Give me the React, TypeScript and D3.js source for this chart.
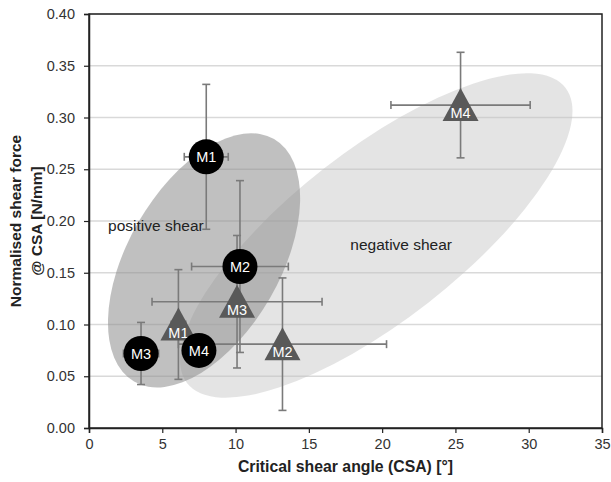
import React, { useEffect, useRef } from 'react';
import * as d3 from 'd3';

// Circle series (black markers)
const circleLabels = ['M1', 'M2', 'M3', 'M4'];
const circleX = [8.0, 10.3, 3.55, 7.5];
const circleY = [0.262, 0.156, 0.072, 0.075];
const circleXErr = [1.5, 3.3, 1.2, 0.8];
const circleYErr = [0.07, 0.083, 0.03, 0.01];

// Triangle series (grey markers)
const triLabels = ['M1', 'M2', 'M3', 'M4'];
const triX = [6.1, 13.2, 10.1, 25.35];
const triY = [0.1, 0.081, 0.122, 0.312];
const triXErr = [0.5, 7.1, 5.8, 4.75];
const triYErr = [0.053, 0.064, 0.064, 0.051];

const xTicks = [0, 5, 10, 15, 20, 25, 30, 35];
const yTicks = [0, 0.05, 0.1, 0.15, 0.2, 0.25, 0.3, 0.35, 0.4];

// Shaded regions: centre in data units
const regionNames = ['negative shear', 'positive shear'];
const regionCx = [19.6, 7.85];
const regionCy = [0.186, 0.162];
const labelX = [21.3, 1.3];
const labelY = [0.172, 0.19];

const W = 611;
const H = 482;

const App: React.FC = () => {
  const svgRef = useRef<SVGSVGElement>(null);

  useEffect(() => {
    if (!svgRef.current) return;
    const svg = d3.select(svgRef.current);
    svg.selectAll('*').remove();

    const margin = { top: 14, right: 9, bottom: 54, left: 89 };
    const innerW = W - margin.left - margin.right;
    const innerH = H - margin.top - margin.bottom;
    const font = 'Liberation Sans, Arial, sans-serif';

    const x = d3.scaleLinear().domain([0, 35]).range([0, innerW]);
    const y = d3.scaleLinear().domain([0, 0.4]).range([innerH, 0]);

    const g = svg.append('g').attr('transform', `translate(${margin.left},${margin.top})`);

    // gridlines
    g.selectAll('.grid')
      .data(yTicks.slice(1))
      .join('line')
      .attr('x1', 0).attr('x2', innerW)
      .attr('y1', d => y(d)).attr('y2', d => y(d))
      .attr('stroke', '#d9d9d9')
      .attr('stroke-width', 1.3);

    // shaded regions
    const regionStyle = [
      { rx: 240, ry: 85, rot: -38, fill: '#c4c4c4', op: 0.45 },
      { rx: 76, ry: 140, rot: 30, fill: '#8f8f8f', op: 0.56 }
    ];
    regionNames.forEach((name, i) => {
      const s = regionStyle[i];
      const cx = x(regionCx[i]);
      const cy = y(regionCy[i]);
      g.append('ellipse')
        .attr('cx', 0).attr('cy', 0)
        .attr('rx', s.rx).attr('ry', s.ry)
        .attr('transform', `translate(${cx},${cy}) rotate(${s.rot})`)
        .attr('fill', s.fill)
        .attr('fill-opacity', s.op);
    });

    // region labels
    g.append('text')
      .attr('x', x(labelX[0])).attr('y', y(labelY[0]))
      .attr('text-anchor', 'middle')
      .attr('font-family', font).attr('font-size', 15.5)
      .attr('fill', '#222')
      .text(regionNames[0]);
    g.append('text')
      .attr('x', x(labelX[1])).attr('y', y(labelY[1]))
      .attr('text-anchor', 'start')
      .attr('font-family', font).attr('font-size', 15.5)
      .attr('fill', '#222')
      .text(regionNames[1]);

    // error bars
    const errColor = '#7a7a7a';
    const cap = 4;
    const drawErr = (xs: number[], ys: number[], xe: number[], ye: number[]) => {
      xs.forEach((xv, i) => {
        const px = x(xv), py = y(ys[i]);
        const x0 = x(xv - xe[i]), x1 = x(xv + xe[i]);
        const y0 = y(ys[i] - ye[i]), y1 = y(ys[i] + ye[i]);
        const eg = g.append('g').attr('stroke', errColor).attr('stroke-width', 1.6);
        eg.append('line').attr('x1', x0).attr('x2', x1).attr('y1', py).attr('y2', py);
        eg.append('line').attr('x1', x0).attr('x2', x0).attr('y1', py - cap).attr('y2', py + cap);
        eg.append('line').attr('x1', x1).attr('x2', x1).attr('y1', py - cap).attr('y2', py + cap);
        eg.append('line').attr('x1', px).attr('x2', px).attr('y1', y0).attr('y2', y1);
        eg.append('line').attr('x1', px - cap).attr('x2', px + cap).attr('y1', y0).attr('y2', y0);
        eg.append('line').attr('x1', px - cap).attr('x2', px + cap).attr('y1', y1).attr('y2', y1);
      });
    };
    drawErr(circleX, circleY, circleXErr, circleYErr);
    drawErr(triX, triY, triXErr, triYErr);

    // triangles
    const tri = 'M0,-17L18,16L-18,16Z';
    triX.forEach((xv, i) => {
      const tg = g.append('g').attr('transform', `translate(${x(xv)},${y(triY[i])})`);
      tg.append('path').attr('d', tri).attr('fill', '#595959');
      tg.append('text')
        .attr('y', 13)
        .attr('text-anchor', 'middle')
        .attr('font-family', font).attr('font-size', 14.5)
        .attr('fill', '#fff')
        .text(triLabels[i]);
    });

    // circles
    circleX.forEach((xv, i) => {
      const cg = g.append('g').attr('transform', `translate(${x(xv)},${y(circleY[i])})`);
      cg.append('circle').attr('r', 17.5).attr('fill', '#000');
      cg.append('text')
        .attr('y', 5.5)
        .attr('text-anchor', 'middle')
        .attr('font-family', font).attr('font-size', 14.5)
        .attr('fill', '#fff')
        .text(circleLabels[i]);
    });

    // frame
    g.append('rect')
      .attr('width', innerW).attr('height', innerH)
      .attr('fill', 'none')
      .attr('stroke', '#222')
      .attr('stroke-width', 1.5);

    // axes
    const xAxis = g.append('g')
      .attr('transform', `translate(0,${innerH})`)
      .call(d3.axisBottom(x).tickValues(xTicks).tickSize(5).tickPadding(6).tickFormat(d3.format('d')));
    const yAxis = g.append('g')
      .call(d3.axisLeft(y).tickValues(yTicks).tickSize(5).tickPadding(9).tickFormat(d3.format('.2f')));
    [xAxis, yAxis].forEach(a => {
      a.select('.domain').attr('stroke', '#222').attr('stroke-width', 1.5);
      a.selectAll('.tick line').attr('stroke', '#222').attr('stroke-width', 1.2);
      a.selectAll('.tick text')
        .attr('fill', '#333')
        .attr('font-size', 14.5)
        .attr('font-family', font);
    });

    // axis titles
    svg.append('text')
      .attr('x', margin.left + innerW / 2).attr('y', 472)
      .attr('text-anchor', 'middle')
      .attr('font-family', font).attr('font-size', 15.8).attr('font-weight', 'bold')
      .attr('fill', '#222')
      .text('Critical shear angle (CSA) [°]');
    const yt = svg.append('text')
      .attr('transform', `translate(0,${margin.top + innerH / 2}) rotate(-90)`)
      .attr('text-anchor', 'middle')
      .attr('font-family', font).attr('font-size', 15.5).attr('font-weight', 'bold')
      .attr('fill', '#222');
    yt.append('tspan').attr('x', 0).attr('y', 21).text('Normalised shear force');
    yt.append('tspan').attr('x', 0).attr('y', 42).text('@ CSA [N/mm]');
  }, []);

  return (
    <svg
      ref={svgRef}
      width={W}
      height={H}
      style={{ position: 'absolute', left: 0, top: 0, background: '#fff' }}
    />
  );
};

export default App;
